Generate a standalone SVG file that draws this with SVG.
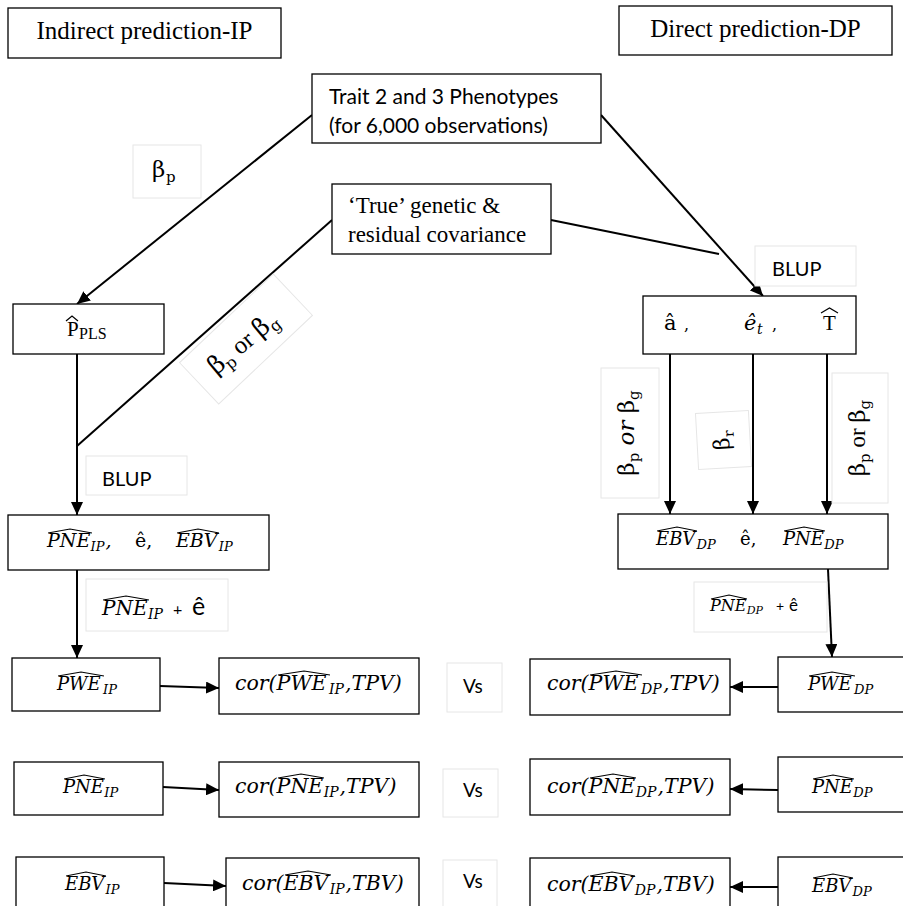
<svg xmlns="http://www.w3.org/2000/svg" width="903" height="906" viewBox="0 0 903 906">
<style>
.box{fill:#fff;stroke:#000;stroke-width:1.3}
.lbl{fill:#fff;stroke:#e6e6e6;stroke-width:1}
.conn{stroke:#000;stroke-width:2;fill:none}
.arr{marker-end:url(#ah)}
.tnr{font-family:"Liberation Serif",serif}
.sans{font-family:Lato,"Open Sans",sans-serif}
.mi{font-family:"DejaVu Serif",serif;font-style:italic}
.mu{font-family:"DejaVu Serif",serif}
.hat{fill:none;stroke:#000;stroke-width:1.2}
text{fill:#000}
</style>
<defs>
<marker id="ah" markerUnits="userSpaceOnUse" markerWidth="14" markerHeight="12" refX="13" refY="6" orient="auto">
<path d="M0,0 L13,6 L0,12 z" fill="#000"/>
</marker>
</defs>

<g id="connectors">
<line class="conn arr" x1="312" y1="115" x2="77" y2="304"/>
<line class="conn" x1="332" y1="220" x2="77" y2="446"/>
<line class="conn arr" x1="77" y1="354" x2="77" y2="515"/>
<line class="conn arr" x1="77" y1="570" x2="77" y2="658"/>
<line class="conn arr" x1="160" y1="686" x2="219" y2="688"/>
<line class="conn arr" x1="163" y1="787" x2="219" y2="790"/>
<line class="conn arr" x1="164" y1="883" x2="226" y2="886"/>
<line class="conn arr" x1="601" y1="115" x2="763" y2="296"/>
<line class="conn" x1="551" y1="220" x2="719" y2="254"/>
<line class="conn arr" x1="670" y1="354" x2="670" y2="514"/>
<line class="conn arr" x1="753" y1="354" x2="753" y2="514"/>
<line class="conn arr" x1="827" y1="354" x2="827" y2="514"/>
<line class="conn arr" x1="828" y1="569" x2="832" y2="657"/>
<line class="conn arr" x1="778" y1="687" x2="730" y2="687"/>
<line class="conn arr" x1="778" y1="790" x2="730" y2="789"/>
<line class="conn arr" x1="778" y1="887" x2="730" y2="887"/>
</g>

<g id="title-ip">
<rect class="box" x="8" y="8" width="273" height="50"/>
<text class="tnr" x="144.5" y="39" font-size="25" text-anchor="middle">Indirect prediction-IP</text>
</g>
<g id="title-dp">
<rect class="box" x="619" y="6" width="273" height="49"/>
<text class="tnr" x="755.5" y="37" font-size="25" text-anchor="middle">Direct prediction-DP</text>
</g>

<g id="phenotypes">
<rect class="box" x="312" y="74" width="289" height="69"/>
<text class="sans" font-size="21"><tspan x="329" y="104">Trait 2 and 3 Phenotypes</tspan><tspan x="329" y="133">(for 6,000 observations)</tspan></text>
</g>

<g id="true-cov">
<rect class="box" x="332" y="184" width="219" height="70"/>
<text class="tnr" font-size="23"><tspan x="348" y="213">‘True’ genetic &amp;</tspan><tspan x="348" y="242">residual covariance</tspan></text>
</g>

<g id="lbl-bp">
<rect class="lbl" x="133" y="145" width="68" height="53"/>
<text class="mu" font-size="23" y="177"><tspan x="152">β</tspan><tspan x="166" dy="5" font-size="15">p</tspan></text>
</g>

<g id="lbl-diag">
<rect class="lbl" x="-64.5" y="-28.5" width="129" height="57" transform="translate(246,339) rotate(-43.4)"/>
<text font-size="25" text-anchor="middle" transform="translate(248,349) rotate(-40)"><tspan class="mu">β</tspan><tspan class="mu" font-size="16" dy="5">p</tspan><tspan class="tnr" dy="-5"> or </tspan><tspan class="mu">β</tspan><tspan class="mu" font-size="16" dy="5">g</tspan></text>
</g>

<g id="ppls">
<rect class="box" x="13" y="304" width="151" height="50"/>
<text class="tnr" font-size="21" y="336"><tspan x="67">P</tspan><tspan x="79" dy="3" font-size="16">PLS</tspan></text>
<path class="hat" d="M66,321 L72,316 L78,321"/>
</g>

<g id="lbl-blup-ip">
<rect class="lbl" x="86" y="456" width="101" height="39"/>
<text class="sans" x="102" y="486" font-size="20">BLUP</text>
</g>

<g id="est-ip">
<rect class="box" x="8" y="515" width="261" height="55"/>
<text class="mi" font-size="19" y="547"><tspan x="47">PNE</tspan><tspan x="90.6" dy="4" font-size="13">IP</tspan><tspan x="105.4" dy="-4">,</tspan></text>
<text class="mu" font-size="19" x="135" y="547">ê,</text>
<text class="mi" font-size="19" y="547"><tspan x="176">EBV</tspan><tspan x="218.8" dy="4" font-size="13">IP</tspan></text>
<path class="hat" d="M48,533 L70,529 L92,533"/>
<path class="hat" d="M177,533 L198,529 L219,533"/>
</g>

<g id="lbl-pne-ip">
<rect class="lbl" x="86" y="579" width="142" height="52"/>
<text class="mi" font-size="20" y="615"><tspan x="102">PNE</tspan><tspan x="148" dy="4" font-size="14">IP</tspan></text>
<text class="sans" x="173" y="615" font-size="16">+</text>
<text class="sans" x="192" y="615" font-size="25">ê</text>
<path class="hat" d="M103,600 L126,596 L149,600"/>
</g>

<g id="pwe-ip">
<rect class="box" x="12" y="658" width="148" height="53"/>
<text class="mi" font-size="18" y="690"><tspan x="57">PWE</tspan><tspan x="103" dy="4" font-size="13">IP</tspan></text>
<path class="hat" d="M58,676 L81,672 L104,676"/>
</g>
<g id="cor-pwe-ip">
<rect class="box" x="219" y="658" width="200" height="56"/>
<text class="mi" font-size="20.5" y="690"><tspan x="235">cor(</tspan><tspan x="276.6">PWE</tspan><tspan x="329" dy="4" font-size="14">IP</tspan><tspan x="345" dy="-4">,TPV)</tspan></text>
<path class="hat" d="M278,675 L304,671 L330,675"/>
</g>
<g id="vs-1">
<rect class="lbl" x="447" y="663" width="55" height="49"/>
<text class="sans" x="463" y="693" font-size="19">Vs</text>
</g>
<g id="cor-pwe-dp">
<rect class="box" x="530" y="659" width="200" height="56"/>
<text class="mi" font-size="20.5" y="690"><tspan x="547">cor(</tspan><tspan x="588.6">PWE</tspan><tspan x="641" dy="4" font-size="14">DP</tspan><tspan x="663" dy="-4">,TPV)</tspan></text>
<path class="hat" d="M590,675 L616,671 L642,675"/>
</g>
<g id="pwe-dp">
<rect class="box" x="778" y="657" width="130" height="55"/>
<text class="mi" font-size="18" y="690"><tspan x="808">PWE</tspan><tspan x="854" dy="4" font-size="13">DP</tspan></text>
<path class="hat" d="M809,676 L832,672 L855,676"/>
</g>

<g id="pne-ip">
<rect class="box" x="14" y="762" width="149" height="53"/>
<text class="mi" font-size="18" y="793"><tspan x="63">PNE</tspan><tspan x="104.3" dy="4" font-size="13">IP</tspan></text>
<path class="hat" d="M64,779 L84,775 L105,779"/>
</g>
<g id="cor-pne-ip">
<rect class="box" x="219" y="762" width="200" height="55"/>
<text class="mi" font-size="20.5" y="793"><tspan x="235">cor(</tspan><tspan x="276.6">PNE</tspan><tspan x="323.7" dy="4" font-size="14">IP</tspan><tspan x="339.6" dy="-4">,TPV)</tspan></text>
<path class="hat" d="M278,778 L301,774 L324,778"/>
</g>
<g id="vs-2">
<rect class="lbl" x="443" y="769" width="55" height="48"/>
<text class="sans" x="463" y="797" font-size="19">Vs</text>
</g>
<g id="cor-pne-dp">
<rect class="box" x="530" y="759" width="200" height="56"/>
<text class="mi" font-size="20.5" y="793"><tspan x="547">cor(</tspan><tspan x="588.6">PNE</tspan><tspan x="635.7" dy="4" font-size="14">DP</tspan><tspan x="657.6" dy="-4">,TPV)</tspan></text>
<path class="hat" d="M590,778 L613,774 L636,778"/>
</g>
<g id="pne-dp">
<rect class="box" x="778" y="757" width="130" height="55"/>
<text class="mi" font-size="18" y="793"><tspan x="812">PNE</tspan><tspan x="853.3" dy="4" font-size="13">DP</tspan></text>
<path class="hat" d="M813,779 L833,775 L854,779"/>
</g>

<g id="ebv-ip">
<rect class="box" x="16" y="857" width="148" height="60"/>
<text class="mi" font-size="18" y="890"><tspan x="65">EBV</tspan><tspan x="105.5" dy="4" font-size="13">IP</tspan></text>
<path class="hat" d="M66,876 L86,872 L106,876"/>
</g>
<g id="cor-ebv-ip">
<rect class="box" x="226" y="858" width="193" height="60" stroke-width="1.8"/>
<text class="mi" font-size="20.5" y="890"><tspan x="242">cor(</tspan><tspan x="283.6">EBV</tspan><tspan x="329.7" dy="4" font-size="14">IP</tspan><tspan x="345.6" dy="-4">,TBV)</tspan></text>
<path class="hat" d="M285,875 L308,871 L331,875"/>
</g>
<g id="vs-3">
<rect class="lbl" x="443" y="860" width="54" height="60"/>
<text class="sans" x="463" y="888" font-size="19">Vs</text>
</g>
<g id="cor-ebv-dp">
<rect class="box" x="530" y="858" width="200" height="60"/>
<text class="mi" font-size="20.5" y="891"><tspan x="547">cor(</tspan><tspan x="588.6">EBV</tspan><tspan x="634.7" dy="4" font-size="14">DP</tspan><tspan x="656.6" dy="-4">,TBV)</tspan></text>
<path class="hat" d="M590,876 L612,872 L635,876"/>
</g>
<g id="ebv-dp">
<rect class="box" x="778" y="857" width="130" height="60"/>
<text class="mi" font-size="18" y="892"><tspan x="812">EBV</tspan><tspan x="852.5" dy="4" font-size="13">DP</tspan></text>
<path class="hat" d="M813,878 L833,874 L853,878"/>
</g>

<g id="lbl-blup-dp">
<rect class="lbl" x="755" y="246" width="101" height="40"/>
<text class="sans" x="772" y="276" font-size="20">BLUP</text>
</g>

<g id="est-dp-raw">
<rect class="box" x="643" y="296" width="213" height="58"/>
<text class="mu" x="664" y="330" font-size="21">â</text>
<text class="mu" x="684" y="330" font-size="16">,</text>
<text class="mi" font-size="21" y="330"><tspan x="744">ê</tspan><tspan x="757" dy="4" font-size="14">t</tspan></text>
<text class="mu" x="772" y="330" font-size="16">,</text>
<text class="tnr" x="823" y="330" font-size="21">T</text>
<path class="hat" d="M821,313 L829.5,308 L838,313"/>
</g>

<g id="lbl-left-vert">
<rect class="lbl" x="601" y="368" width="58" height="130"/>
<text font-size="23" text-anchor="middle" transform="translate(634,433) rotate(-90)"><tspan class="mu">β</tspan><tspan class="mu" font-size="15" dy="5">p</tspan><tspan class="mi" dy="-5"> or </tspan><tspan class="mu">β</tspan><tspan class="mu" font-size="15" dy="5">g</tspan></text>
</g>
<g id="lbl-br">
<rect class="lbl" x="-26.5" y="-28" width="53" height="56" transform="translate(723.5,440) rotate(-3.2)"/>
<text font-size="22" text-anchor="middle" transform="translate(729,440) rotate(-93)"><tspan class="mu">β</tspan><tspan class="mu" font-size="14" dy="5">r</tspan></text>
</g>
<g id="lbl-right-vert">
<rect class="lbl" x="832" y="373" width="56" height="130"/>
<text font-size="23" text-anchor="middle" transform="translate(865,438) rotate(-90)"><tspan class="mu">β</tspan><tspan class="mu" font-size="15" dy="5">p</tspan><tspan class="tnr" dy="-5"> or </tspan><tspan class="mu">β</tspan><tspan class="mu" font-size="15" dy="5">g</tspan></text>
</g>

<g id="est-dp">
<rect class="box" x="618" y="514" width="270" height="55"/>
<text class="mi" font-size="18" y="545"><tspan x="656">EBV</tspan><tspan x="696.5" dy="4" font-size="13">DP</tspan></text>
<text class="mu" font-size="18" x="740" y="545">ê,</text>
<text class="mi" font-size="18" y="545"><tspan x="783">PNE</tspan><tspan x="824.3" dy="4" font-size="13">DP</tspan></text>
<path class="hat" d="M657,531 L677,527 L697,531"/>
<path class="hat" d="M784,531 L804,527 L825,531"/>
</g>

<g id="lbl-pne-dp">
<rect class="lbl" x="694" y="582" width="133" height="50"/>
<text class="mi" font-size="16" y="611"><tspan x="710">PNE</tspan><tspan x="746.7" dy="3" font-size="11">DP</tspan></text>
<text class="sans" x="776" y="611" font-size="14">+</text>
<text class="sans" x="789" y="611" font-size="17">ê</text>
<path class="hat" d="M711,599 L729,595 L747,599"/>
</g>
</svg>
